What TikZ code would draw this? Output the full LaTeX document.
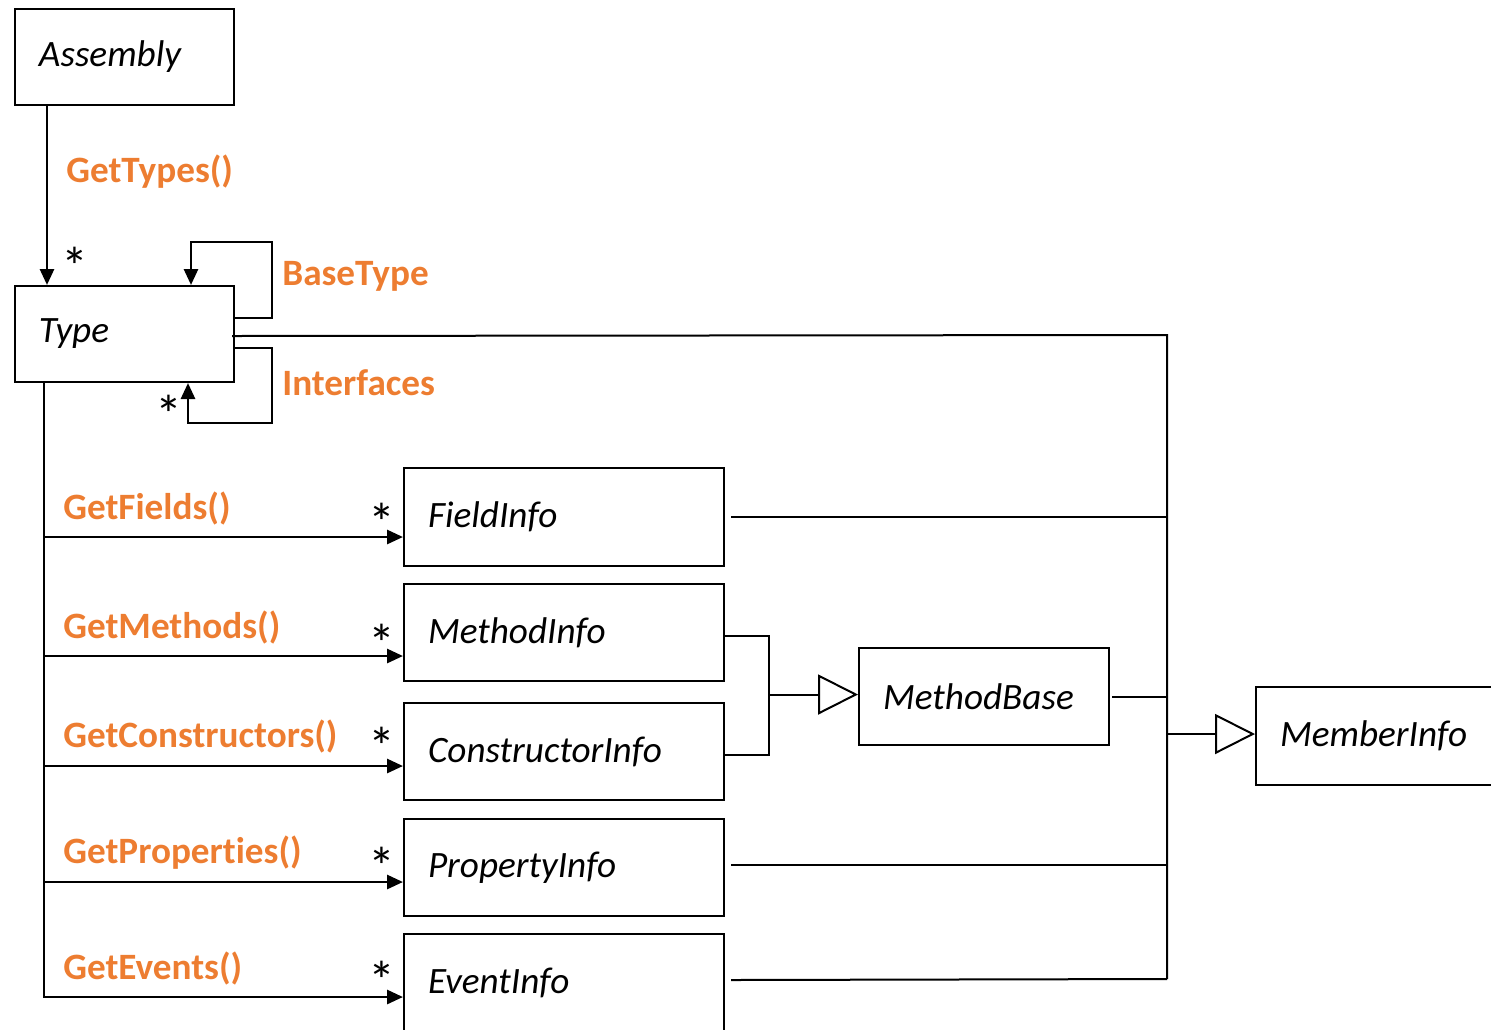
\documentclass[tikz,border=0pt]{standalone}
\usepackage{fontspec}
\setmainfont{Carlito}[Ligatures=NoCommon]
\usetikzlibrary{arrows.meta,calc}
\definecolor{accent}{HTML}{ED7D31}

\begin{document}
\begin{tikzpicture}[x=0.5pt,y=-0.5pt,
  cls/.style={draw, line width=1pt, anchor=north west, inner xsep=12pt, inner ysep=0pt,
    align=left, font=\fontsize{18.6}{20}\selectfont\itshape},
  meth/.style={anchor=west, inner sep=0pt, text=accent, font=\fontsize{18.6}{20}\selectfont\bfseries},
  mult/.style={inner sep=0pt, font=\fontsize{27}{28}\selectfont},
  assoc/.style={line width=1.4pt, -{Triangle[length=8pt,width=7pt]}},
  plain/.style={line width=1pt},
  gen/.style={line width=1pt, -{Triangle[open,length=20pt,width=20pt,line width=1pt]}}]

\useasboundingbox (0,0) rectangle (1491,1029);
\clip (0,0) rectangle (1491,1029);

% classes
\node[cls, minimum width=109.5pt, minimum height=48pt, text width=85.5pt] (asm) at (14,8) {Assembly};
\node[cls, minimum width=109.5pt, minimum height=48pt, text width=85.5pt] (type) at (14,285) {Type};
\node[cls, minimum width=160pt, minimum height=49pt, text width=136pt] (fi) at (403,467) {FieldInfo};
\node[cls, minimum width=160pt, minimum height=48.5pt, text width=136pt] (mi) at (403,583) {MethodInfo};
\node[cls, minimum width=160pt, minimum height=48.5pt, text width=136pt] (ci) at (403,702) {ConstructorInfo};
\node[cls, minimum width=160pt, minimum height=48.5pt, text width=136pt] (pi) at (403,818) {PropertyInfo};
\node[cls, minimum width=160pt, minimum height=49pt, text width=136pt] (ev) at (403,933) {EventInfo};
\node[cls, minimum width=125pt, minimum height=48.5pt, text width=101pt] (mb) at (858,647) {MethodBase};
\node[cls, minimum width=130pt, minimum height=49pt, text width=106pt] (mem) at (1255,686) {MemberInfo};

% Assembly -> Type
\draw[assoc] ($(asm.south west)+(33,0)$) -- ($(type.north west)+(33,0)$);
\node[meth] (lgt) at (66,172) {GetTypes()};
\node[mult] (sgt) at (75,266) {*};

% self associations of Type
\draw[assoc] ($(type.north east)+(0,33)$) -- ++(37,0) |- ($(type.north west)+(177,-43)$)
  -- ($(type.north west)+(177,0)$);
\node[meth] (lbt) at (282,276) {BaseType};
\draw[assoc] ($(type.south east)+(0,-35)$) -- ++(37,0) |- ($(type.south west)+(174,40)$)
  -- ($(type.south west)+(174,0)$);
\node[meth] (lif) at (282,383) {Interfaces};
\node[mult] (sif) at (169,414) {*};

% Type -> member kinds
\coordinate (lb) at ($(type.south west)+(30,0)$);
\coordinate (afi) at ($(fi.north west)+(0,70)$);
\coordinate (ami) at ($(mi.north west)+(0,73)$);
\coordinate (aci) at ($(ci.north west)+(0,64)$);
\coordinate (api) at ($(pi.north west)+(0,64)$);
\coordinate (aev) at ($(ev.north west)+(0,64)$);
\draw[assoc] (lb) |- (aev);
\draw[assoc] (lb |- afi) -- (afi);
\draw[assoc] (lb |- ami) -- (ami);
\draw[assoc] (lb |- aci) -- (aci);
\draw[assoc] (lb |- api) -- (api);

\node[meth] (lgf) at (63,508) {GetFields()};
\node[meth] (lgm) at (63,627) {GetMethods()};
\node[meth] (lgc) at (63,736) {GetConstructors()};
\node[meth] (lgp) at (63,853) {GetProperties()};
\node[meth] (lge) at (63,968) {GetEvents()};
\node[mult] (sfi) at (382,522) {*};
\node[mult] (smi) at (382,643) {*};
\node[mult] (sci) at (382,746) {*};
\node[mult] (spi) at (382,866) {*};
\node[mult] (sev) at (382,980) {*};

% MethodInfo / ConstructorInfo -> MethodBase
\draw[plain] ($(mi.east)+(0,3)$) -- ++(44,0) |- ($(ci.east)+(0,3)$);
\draw[gen] ($(mb.west)+(-88,-2)$) -- ($(mb.west)+(0,-2)$);

% everything -> MemberInfo
\coordinate (rb) at (1167,335);
\coordinate (rbend) at (1167,979);
\draw[plain] ($(type.east)+(-3,2)$) -- (rb) -- (rbend);
\draw[plain] ($(fi.east)+(6,0)$) -- (fi.east -| rb);
\draw[plain] ($(mb.east)+(2,0)$) -- (mb.east -| rb);
\draw[plain] ($(pi.east)+(6,-3)$) -- ($(pi.east -| rb)+(0,-3)$);
\draw[plain] ($(ev.east)+(6,-3)$) -- (rbend);
\draw[gen] ($(mem.west -| rb)+(0,-2)$) -- ($(mem.west)+(0,-2)$);

\end{tikzpicture}
\end{document}
